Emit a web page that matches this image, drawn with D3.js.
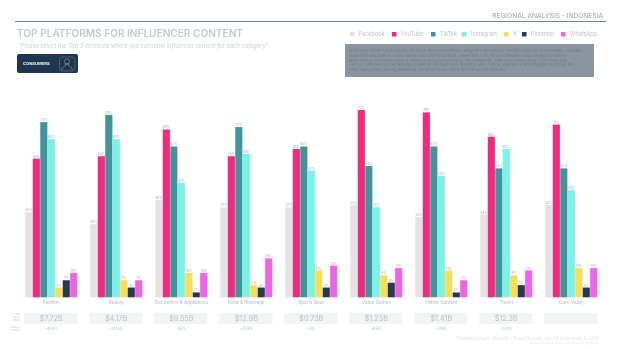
<!DOCTYPE html>
<html><head><meta charset="utf-8">
<script src="https://cdn.jsdelivr.net/npm/d3@7"></script>
<style>html,body{margin:0;background:#fff}svg{display:block}text{font-family:Inter,"Open Sans",sans-serif;filter:blur(.22px)}</style>
</head><body><svg id="c" width="620" height="349"></svg>
<script>
const categories=["Fashion","Beauty","Electronics & Appliances","Food & Beverage","Sports Gear","Video Games","Online Content","Travel","Cars (Auto)"];
const platforms=["Facebook","YouTube","TikTok","Instagram","X","Pinterest","WhatsApp"];
const colors=["#e3e3e3","#f5297c","#3f959e","#78f3e6","#fbdc55","#263a50","#f162e8"];
const legendX=[350,392,431,462,504,522,561];
const facebook=[35,30,40,37,37,38,33,34,38];
const youtube=[57,58,69,58,61,77,76,66,71];
const tiktok=[72,75,62,70,62,54,62,53,53];
const instagram=[65,65,47,59,52,37,50,61,44];
const xValues=[4,7,10,5,11,9,11,9,12];
const pinterest=[7,4,2,4,4,6,2,5,4];
const whatsapp=[10,7,10,16,13,12,7,11,12];
const series=[facebook,youtube,tiktok,instagram,xValues,pinterest,whatsapp];
const spend=["$7.72B","$4.17B","$9.55B","$12.9B","$0.73B","$1.23B","$1.41B","$12.3B",""];
const growth=["+40.6%","+157.3%","-9.0%","+73.9%","+5%","+6.6%","+17.9%","+13.0%",""];
const bodyLines=["Influencer content consumption in 2024 TikTok dominates categories like Beauty, Fashion and Food & Beverage. YouTube","leads with Electronics, Video Games and Online Content, Travel and Cars, while Instagram stays strong for Beauty","and Fashion. Facebook holds a steady share across most of the categories, with consumers using it for Travel and","Cars. X, Pinterest and WhatsApp remain niche under 16% in every case. TikTok, YouTube and Instagram dominate the","other categories, making Indonesia one of the most video-first influencer markets."];
const svg=d3.select("#c");
const x=d3.scaleBand().domain(categories).range([25.3,610.3]);
const inner=d3.scaleBand().domain(d3.range(7)).range([0,52]).paddingInner(0.05);
const y=d3.scaleLinear().domain([0,77]).range([297.3,110]);
const T=(px,py,s,size,fill,anchor,extra)=>{const t=svg.append("text").attr("x",px).attr("y",py).text(s).attr("font-size",size).attr("fill",fill).attr("text-anchor",anchor||"start");if(extra)extra(t);return t;};
// header
svg.append("line").attr("x1",15).attr("x2",606).attr("y1",21.5).attr("y2",21.5).attr("stroke","#6f829c").attr("stroke-width",1);
T(603,18,"REGIONAL ANALYSIS - INDONESIA",6.65,"#9a9ea4","end");
T(17,37,"TOP PLATFORMS FOR INFLUENCER CONTENT",10.1,"#c6c9cc",null,t=>t.attr("font-weight",600));
T(18,48,"\"Please select the Top 3 channels where you consume influencer content for each category\"",5.7,"#cfd1d4",null,t=>t.attr("font-style","italic"));
svg.append("rect").attr("x",17).attr("y",54).attr("width",61).attr("height",19).attr("rx",2).attr("fill","#1f3651");
T(23,65,"CONSUMERS",4.1,"#eef1f4",null,t=>t.attr("font-weight",700));
svg.append("rect").attr("x",59.5).attr("y",57).attr("width",15.5).attr("height",14).attr("rx",3).attr("fill","none").attr("stroke","#74869a").attr("stroke-width",.5);
svg.append("circle").attr("cx",67).attr("cy",61.5).attr("r",2.6).attr("fill","none").attr("stroke","#a8b4c0").attr("stroke-width",.5);
svg.append("path").attr("d",d3.line()([[62,70],[62,68],[65.5,65.5],[65.5,64],[68.5,64],[68.5,65.5],[72,68],[72,70]])).attr("fill","none").attr("stroke","#a8b4c0").attr("stroke-width",.5);
// legend
platforms.forEach((p,i)=>{
 svg.append("rect").attr("x",legendX[i]).attr("y",32).attr("width",4.5).attr("height",4.5).attr("fill",colors[i]);
 T(legendX[i]+9,36.3,p,5.5,"#c0c3c7");
});
// box
svg.append("rect").attr("x",345).attr("y",44).attr("width",249).attr("height",33).attr("fill","#8b959f");
bodyLines.forEach((l,i)=>T(349,52+i*4.8,l,4.05,"#727c88"));
// bars
const g=svg.selectAll("g.cat").data(categories).join("g").attr("class","cat").attr("transform",c=>`translate(${x(c)},0)`);
g.each(function(c,ci){
 const gg=d3.select(this);
 series.forEach((s,si)=>{
  const v=s[ci];
  gg.append("rect").attr("x",inner(si)).attr("width",inner.bandwidth()).attr("y",y(v)).attr("height",y(0)-y(v)).attr("fill",colors[si]);
  gg.append("text").attr("x",inner(si)+inner.bandwidth()/2).attr("y",y(v)-1).attr("text-anchor","middle").attr("font-size",3.2).attr("fill","#a6a9ad").text(v+"%");
 });
 gg.append("text").attr("x",26).attr("y",303.5).attr("text-anchor","middle").attr("font-size",4.6).attr("fill","#b4b7bb").text(c);
 gg.append("rect").attr("x",-1).attr("y",313).attr("width",53).attr("height",11).attr("fill","#f2f3f5");
 gg.append("text").attr("x",26).attr("y",321).attr("text-anchor","middle").attr("font-size",7.2).attr("fill","#bbbec2").text(spend[ci]);
 gg.append("text").attr("x",26).attr("y",330).attr("text-anchor","middle").attr("font-size",3.4).attr("fill","#b4b7bb").text(growth[ci]);
});
// row labels
["2024","INFLU.","SPEND"].forEach((s,i)=>T(20,315+i*3.2,s,2.3,"#c6c8cb","end"));
["ANNUAL","CHANGE"].forEach((s,i)=>T(20,328+i*3.2,s,2.3,"#c6c8cb","end"));
// source
T(599,340,"Statusian Insight: Statista + Brand Survey, Jun 24 (Indonesia, n=500)",4.4,"#e2e3e5","end");
T(599,344,"Influencer content across nine consumer categories",2.8,"#e6e7e9","end");
</script></body></html>
